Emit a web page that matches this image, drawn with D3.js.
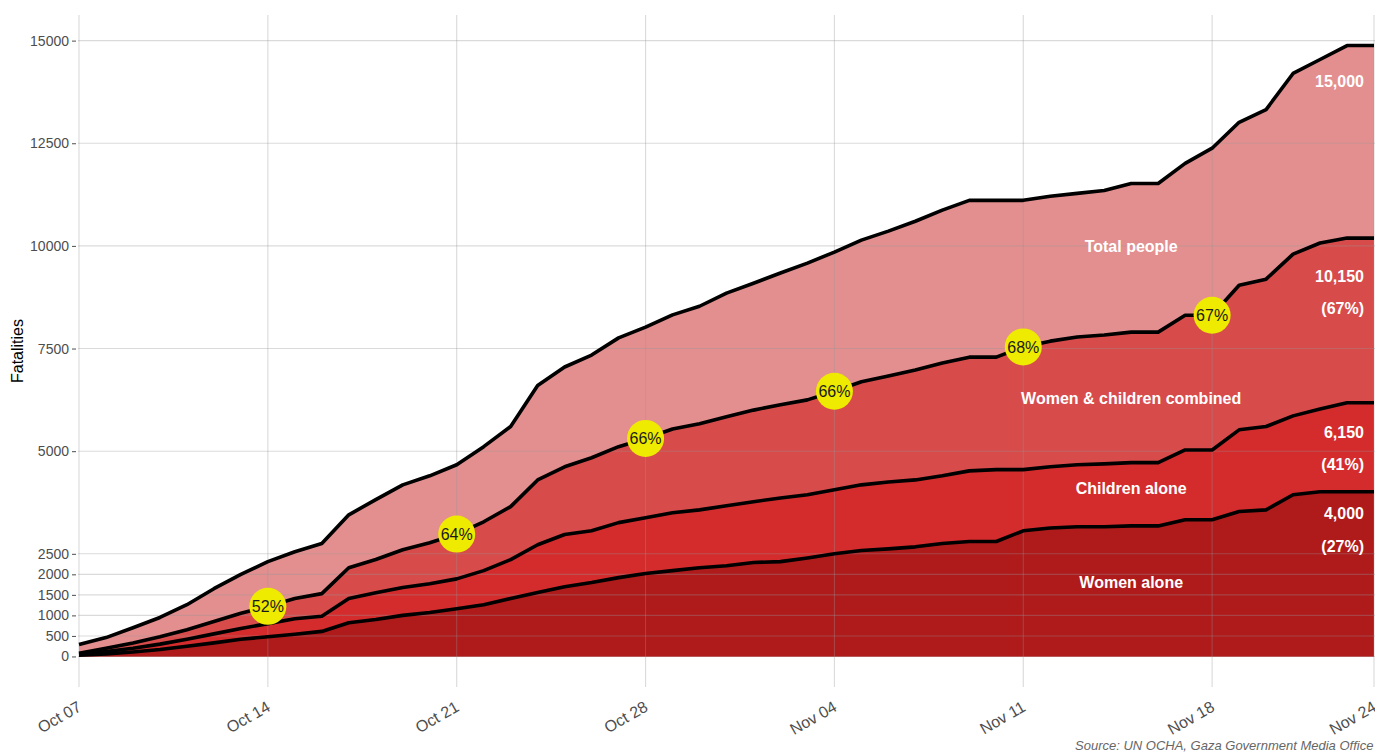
<!DOCTYPE html>
<html>
<head>
<meta charset="utf-8">
<script src="https://cdn.jsdelivr.net/npm/d3@7"></script>
<style>
  body { margin: 0; background: #fff; }
  svg { display: block; font-family: "Liberation Sans", Arial, sans-serif; }
</style>
</head>
<body>
<div id="chart"></div>
<script>
// daily cumulative fatalities, Oct 07 -> Nov 24
var startDate = new Date(2023, 9, 7);
var total = [290, 460, 700, 950, 1260, 1650, 2000, 2310, 2550, 2750,
  3450, 3820, 4180, 4400, 4670, 5110, 5600, 6600, 7050, 7340,
  7760, 8020, 8320, 8530, 8850, 9090, 9340, 9580, 9850, 10140,
  10360, 10600, 10870, 11110, 11110, 11110, 11210, 11280, 11350, 11520,
  11520, 12010, 12380, 13010, 13320, 14200, 14540, 14880, 14880];
var combined = [80, 200, 330, 480, 650, 850, 1050, 1220, 1410, 1530,
  2160, 2360, 2600, 2770, 2980, 3280, 3650, 4300, 4620, 4840,
  5110, 5310, 5540, 5670, 5840, 6000, 6130, 6250, 6460, 6690,
  6830, 6980, 7150, 7290, 7290, 7540, 7680, 7780, 7830, 7900,
  7900, 8310, 8310, 9040, 9190, 9800, 10070, 10190, 10190];
var children = [50, 120, 200, 300, 420, 550, 680, 800, 920, 980,
  1410, 1550, 1680, 1770, 1890, 2090, 2360, 2720, 2970, 3060,
  3260, 3380, 3500, 3570, 3670, 3770, 3860, 3940, 4060, 4180,
  4250, 4300, 4400, 4520, 4550, 4550, 4620, 4670, 4690, 4720,
  4720, 5030, 5030, 5520, 5600, 5860, 6030, 6180, 6180];
var women = [30, 60, 110, 170, 250, 330, 420, 480, 540, 610,
  820, 900, 1000, 1070, 1160, 1260, 1410, 1560, 1700, 1800,
  1920, 2020, 2090, 2160, 2210, 2290, 2310, 2400, 2500, 2580,
  2620, 2670, 2750, 2800, 2800, 3060, 3130, 3160, 3160, 3180,
  3180, 3330, 3330, 3530, 3570, 3940, 4010, 4010, 4010];

var seriesNames = ["Total people", "Women & children combined", "Children alone", "Women alone"];
var seriesColors = ["#e48f8f", "#d74b4b", "#d42c2d", "#af1a1b"];

// share of women & children in total, shown weekly
var pctDays = [7, 14, 21, 28, 35, 42];
var pctLabels = ["52%", "64%", "66%", "66%", "68%", "67%"];

var yTicks = [0, 500, 1000, 1500, 2000, 2500, 5000, 7500, 10000, 12500, 15000];
var xTickDays = [0, 7, 14, 21, 28, 35, 42, 48];

// in-plot labels: [text, day, value]
var areaLabels = [["Total people", 39, 10000], ["Women & children combined", 39, 6300],
  ["Children alone", 39, 4090], ["Women alone", 39, 1800]];
var endLabels = [["15,000", 14000], ["10,150", 9260], ["(67%)", 8480], ["6,150", 5470],
  ["(41%)", 4670], ["4,000", 3480], ["(27%)", 2680]];

var width = 1375, height = 753;
var mLeft = 79, mRight = 1374, mTop = 15, mBottom = 687;

var dates = total.map(function (d, i) { return d3.timeDay.offset(startDate, i); });
var rows = dates.map(function (d, i) {
  return { date: d, vals: [total[i], combined[i], children[i], women[i]] };
});

var xScale = d3.scaleTime()
  .domain(d3.extent(dates))
  .range([mLeft, mRight]);

var yMax = d3.max(total);
var pad = yMax * 0.05;
var yScale = d3.scaleLinear()
  .domain([-pad, yMax + pad])
  .range([mBottom, mTop]);

var xTicks = xTickDays.map(function (d) { return dates[d]; });

var svg = d3.select('#chart').append('svg')
  .attr('width', width)
  .attr('height', height);

// areas, each from zero, drawn over each other
seriesNames.forEach(function (name, k) {
  var area = d3.area()
    .x(function (d) { return xScale(d.date); })
    .y0(yScale(0))
    .y1(function (d) { return yScale(d.vals[k]); });
  svg.append('path')
    .datum(rows)
    .attr('d', area)
    .attr('fill', seriesColors[k]);
});

// grid on top, faint so it shows through the fills
var grid = svg.append('g').attr('stroke', 'rgba(150,150,150,0.35)').attr('stroke-width', 1.1);
grid.selectAll('line.h').data(yTicks).enter().append('line')
  .attr('x1', mLeft - 1).attr('x2', width)
  .attr('y1', function (d) { return yScale(d); })
  .attr('y2', function (d) { return yScale(d); });
grid.selectAll('line.v').data(xTicks).enter().append('line')
  .attr('y1', mTop).attr('y2', mBottom)
  .attr('x1', function (d) { return xScale(d); })
  .attr('x2', function (d) { return xScale(d); });

// outlines
seriesNames.forEach(function (name, k) {
  var line = d3.line()
    .x(function (d) { return xScale(d.date); })
    .y(function (d) { return yScale(d.vals[k]); });
  svg.append('path')
    .datum(rows)
    .attr('d', line)
    .attr('fill', 'none')
    .attr('stroke', '#000')
    .attr('stroke-width', 3.6)
    .attr('stroke-linejoin', 'round');
});

// y axis
var yAxis = d3.axisLeft(yScale).tickValues(yTicks).tickSize(4).tickPadding(3).tickFormat(d3.format('d'));
var gy = svg.append('g').attr('transform', 'translate(' + (mLeft - 3) + ',0)').call(yAxis);
gy.select('.domain').remove();
gy.selectAll('line').attr('stroke', '#4d4d4d');
gy.selectAll('text').attr('fill', '#4d4d4d').style('font-size', '14px');

// x axis
var xAxis = d3.axisBottom(xScale).tickValues(xTicks).tickSize(0).tickFormat(d3.timeFormat('%b %d'));
var gx = svg.append('g').attr('transform', 'translate(0,' + mBottom + ')').call(xAxis);
gx.select('.domain').remove();
gx.selectAll('text')
  .attr('fill', '#4d4d4d')
  .style('font-size', '16px')
  .attr('text-anchor', 'end')
  .attr('dy', null).attr('y', null)
  .attr('transform', 'translate(3,23) rotate(-30)');

svg.append('text')
  .attr('transform', 'translate(23,351) rotate(-90)')
  .attr('text-anchor', 'middle')
  .style('font-size', '16px')
  .attr('fill', '#000')
  .text('Fatalities');

// percentage bubbles on the combined line
var bubbles = svg.append('g').selectAll('g').data(pctDays).enter().append('g')
  .attr('transform', function (d) {
    return 'translate(' + xScale(dates[d]) + ',' + yScale(combined[d]) + ')';
  });
bubbles.append('circle').attr('r', 18.5).attr('fill', '#eeea00');
bubbles.append('text')
  .attr('text-anchor', 'middle')
  .attr('dy', '0.36em')
  .style('font-size', '16px')
  .attr('fill', '#1a1a1a')
  .text(function (d, i) { return pctLabels[i]; });

// area names
svg.append('g').selectAll('text').data(areaLabels).enter().append('text')
  .attr('x', function (d) { return xScale(dates[d[1]]); })
  .attr('y', function (d) { return yScale(d[2]); })
  .attr('dy', '0.36em')
  .attr('text-anchor', 'middle')
  .attr('fill', '#fff')
  .style('font-size', '16px')
  .style('font-weight', 'bold')
  .text(function (d) { return d[0]; });

// end totals
svg.append('g').selectAll('text').data(endLabels).enter().append('text')
  .attr('x', xScale(dates[dates.length - 1]) - 10)
  .attr('y', function (d) { return yScale(d[1]); })
  .attr('dy', '0.36em')
  .attr('text-anchor', 'end')
  .attr('fill', '#fff')
  .style('font-size', '16px')
  .style('font-weight', 'bold')
  .text(function (d) { return d[0]; });

svg.append('text')
  .attr('x', 1075)
  .attr('y', 750)
  .style('font-size', '13px')
  .style('font-style', 'italic')
  .attr('fill', '#666')
  .text('Source: UN OCHA, Gaza Government Media Office');
</script>
</body>
</html>
